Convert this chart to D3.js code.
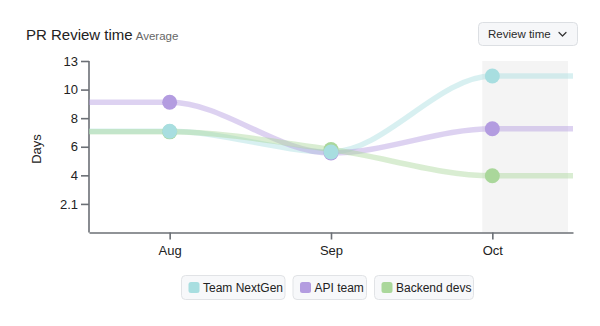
<!DOCTYPE html>
<html>
<head>
<meta charset="utf-8">
<script src="https://cdn.jsdelivr.net/npm/d3@7"></script>
<style>
  html, body { margin: 0; padding: 0; background: #fff; }
  svg { display: block; font-family: "Liberation Sans", Arial, Helvetica, sans-serif; }
</style>
</head>
<body>
<svg id="chart" width="600" height="326"></svg>
<script>
// Months on the x axis
const months = ["Aug", "Sep", "Oct"];

// Average review time in days, per team and month
const teamNextGen = [7.40, 5.89, 11.44];
const apiTeam     = [9.52, 5.81, 7.59];
const backendDevs = [7.36, 6.07, 4.15];

const seriesNames  = ["Team NextGen", "API team", "Backend devs"];
const seriesColors = ["#a8dee0", "#b39ce0", "#aad79b"];

// Y axis ticks and their printed labels
const yMax = 12.54;
const yTickValues = [2.09, 4.18, 6.27, 8.36, 10.45, 12.54];
const yTickLabels = ["2.1", "4", "6", "8", "10", "13"];

// The month that is still in progress gets a shaded band
const currentMonth = "Oct";

const series = [teamNextGen, apiTeam, backendDevs].map((values, i) => ({
  name: seriesNames[i], color: seriesColors[i], values
}));

const svg = d3.select("#chart");
const plotLeft = 89, plotRight = 573, plotTop = 61, plotBottom = 232.5;

const x = d3.scalePoint().domain(months).range([plotLeft, plotRight]).padding(0.5);
const y = d3.scaleLinear().domain([0, yMax]).range([plotBottom, plotTop]);

// Title
svg.append("text").attr("x", 26).attr("y", 39.5)
  .attr("font-size", 15).attr("fill", "#222").text("PR Review time")
  .append("tspan").attr("dx", 3).attr("font-size", 11.5).attr("fill", "#666").text("Average");

// Dropdown button
const btn = svg.append("g").attr("transform", "translate(478,22)");
btn.append("rect").attr("x", 0.5).attr("y", 0.5).attr("width", 99).attr("height", 23).attr("rx", 4)
  .attr("fill", "#f6f7f9").attr("stroke", "#dcdfe3");
btn.append("text").attr("x", 10).attr("y", 16).attr("font-size", 11.5).attr("fill", "#2a2a2a").text("Review time");
btn.append("path").attr("d", "M81,10.5 L84.5,14 L88,10.5").attr("fill", "none")
  .attr("stroke", "#333").attr("stroke-width", 1.2).attr("stroke-linecap", "round").attr("stroke-linejoin", "round");

// Shaded band for the current month
const bandStart = x(currentMonth) - 10;
svg.append("rect").attr("x", bandStart).attr("y", plotTop).attr("width", plotRight - 5 - bandStart)
  .attr("height", plotBottom - plotTop).attr("fill", "#f4f4f4");

// Axes
const yAxis = svg.append("g").attr("transform", `translate(${plotLeft},0)`)
  .call(d3.axisLeft(y).tickValues(yTickValues).tickFormat((d, i) => yTickLabels[i]).tickSize(8).tickSizeOuter(0).tickPadding(3));
const xAxis = svg.append("g").attr("transform", `translate(0,${plotBottom})`)
  .call(d3.axisBottom(x).tickSize(7).tickSizeOuter(0).tickPadding(6));
[xAxis, yAxis].forEach(g => {
  g.select(".domain").attr("stroke", "#6b6f75").attr("stroke-width", 1.6);
  g.selectAll(".tick line").attr("stroke", "#6b6f75").attr("stroke-width", 1.6);
  g.selectAll(".tick text").attr("font-size", 13).attr("fill", "#222")
    .attr("font-family", "'Liberation Sans', Arial, Helvetica, sans-serif");
});
yAxis.select(".domain").attr("d", `M0,${plotTop}V${plotBottom}`);

// Y axis title
svg.append("text").attr("transform", "translate(41,149) rotate(-90)")
  .attr("text-anchor", "middle").attr("font-size", 13).attr("fill", "#222").text("Days");

// Lines run flat from the left edge to the first month and from the last month to the right edge
const line = d3.line().x(d => d[0]).y(d => y(d[1])).curve(d3.curveMonotoneX);
series.forEach(s => {
  const pts = [[plotLeft, s.values[0]]]
    .concat(months.map((m, i) => [x(m), s.values[i]]))
    .concat([[plotRight, s.values[s.values.length - 1]]]);
  svg.append("path").datum(pts).attr("d", line)
    .attr("fill", "none").attr("stroke", s.color).attr("stroke-opacity", 0.45)
    .attr("stroke-width", 5.5).attr("stroke-linecap", "butt");
});

// Points, drawn so Team NextGen sits on top
[2, 1, 0].forEach(i => {
  const s = series[i];
  svg.append("g").selectAll("circle").data(s.values).join("circle")
    .attr("cx", (d, j) => x(months[j])).attr("cy", d => y(d)).attr("r", 7.5)
    .attr("fill", s.color);
});

// Legend
const legendBoxes = [[181, 104.5], [292.5, 74.5], [374, 100]];
const legend = svg.append("g");
series.forEach((s, i) => {
  const [lx, lw] = legendBoxes[i];
  const g = legend.append("g").attr("transform", `translate(${lx},275)`);
  g.append("rect").attr("x", 0.5).attr("y", 0.5).attr("width", lw - 1).attr("height", 24).attr("rx", 4)
    .attr("fill", "#f7f8fa").attr("stroke", "#e1e3e6");
  g.append("rect").attr("x", 7.5).attr("y", 7).attr("width", 11).attr("height", 11).attr("rx", 2.5)
    .attr("fill", s.color);
  g.append("text").attr("x", 22).attr("y", 17).attr("font-size", 12).attr("fill", "#222").text(s.name);
});
</script>
</body>
</html>
